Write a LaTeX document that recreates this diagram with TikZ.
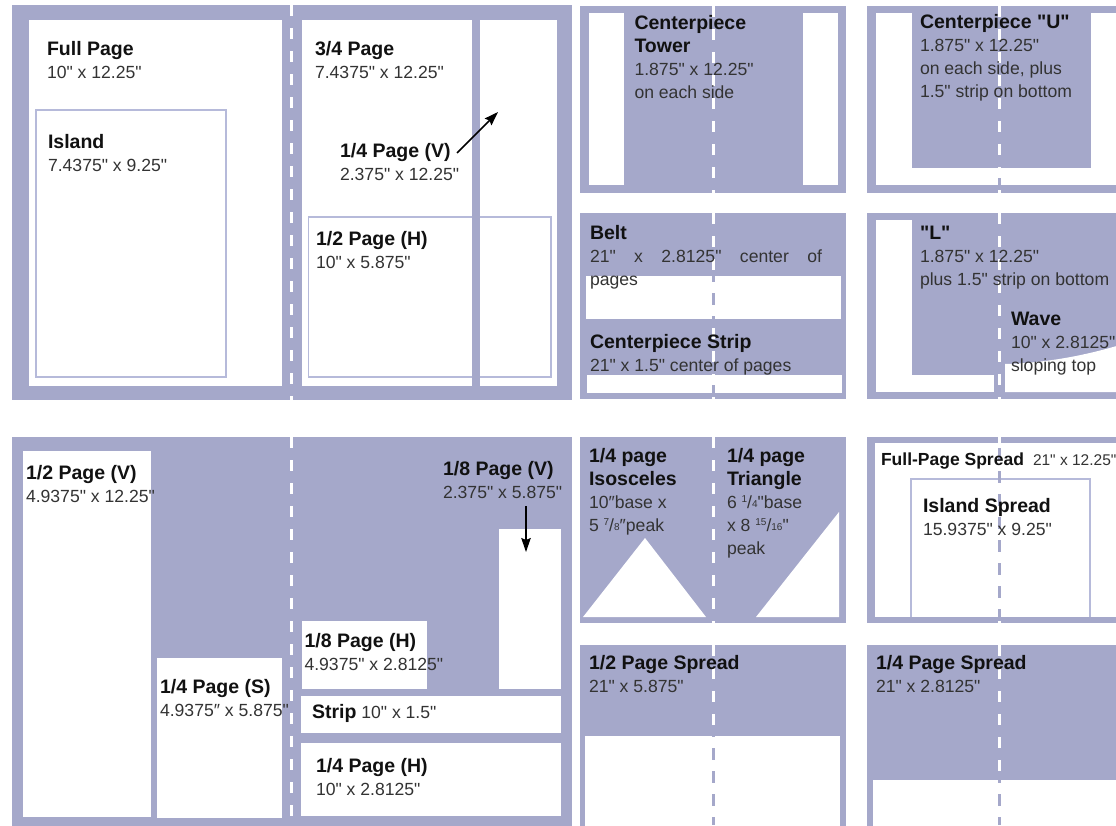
\documentclass[tikz,border=0pt]{standalone}
\usepackage{fontspec}
\setmainfont{Liberation Sans}
\usetikzlibrary{arrows.meta}
\definecolor{pp}{HTML}{A5A8CA}
\definecolor{ol}{HTML}{B6BADA}
\definecolor{tx}{HTML}{333333}
\definecolor{tb}{HTML}{111111}
\newcommand\regf{\fontsize{17.6}{23}\selectfont}
\newcommand\boldf{\fontsize{19.5}{23}\selectfont\bfseries\color{tb}}
\newcommand\fsr{\rule{0pt}{17pt}}
\newcommand\dq{\XeTeXglyph\XeTeXcharglyph"22\relax}
\newcommand\frc[2]{\raisebox{5.5pt}{\fontsize{10}{10}\selectfont #1}/\raisebox{0.5pt}{\fontsize{10}{10}\selectfont #2}}
\newcommand\gutterline[3]{%
  \draw[pp, line width=3pt] (#1,#2) -- (#1,#3);
  \draw[white, line width=3pt, dash pattern=on 11pt off 12pt] (#1,#2) -- (#1,#3);}
\tikzset{
  panel/.style={fill=pp, draw=none},
  pagebox/.style={fill=white, draw=none},
  outl/.style={draw=ol, line width=1.6pt},
  lbl/.style={anchor=north west, inner sep=0pt, outer sep=0pt, align=left, font=\regf, text=tx},
  pointer/.style={-{Stealth[length=14pt,width=9.5pt,inset=2pt]}, line width=1.5pt, draw=black},
}
\begin{document}
\begin{tikzpicture}[x=1pt,y=-1pt]
\useasboundingbox (0,0) rectangle (1116,825);
\fill[white] (0,0) rectangle (1116,825);
\clip (0,0) rectangle (1116,825);

% ---------- Panel A : Full page / 3/4 page ----------
\fill[panel] (12,5) rectangle (572,400);
\fill[pagebox] (29,20) rectangle (282,386);
\fill[pagebox] (302,20) rectangle (557,386);
\draw[outl] (36,110) rectangle (226,377);
\draw[outl] (308.5,217) rectangle (551,377);
\fill[panel] (472,20) rectangle (480,386);
\gutterline{291}{5}{400}

\node[lbl] (fullp) at (47,38) {\fsr{\boldf Full Page}\\10\dq{} x 12.25\dq};
\node[lbl] (island) at (48,131) {\fsr{\boldf Island}\\7.4375\dq{} x 9.25\dq};
\node[lbl] (tqpage) at (315,38) {\fsr{\boldf 3/4 Page}\\7.4375\dq{} x 12.25\dq};
\node[lbl] (qvpage) at (340,140) {\fsr{\boldf 1/4 Page (V)}\\2.375\dq{} x 12.25\dq};
\node[lbl] (hhpage) at (316,228) {\fsr{\boldf 1/2 Page (H)}\\10\dq{} x 5.875\dq};
\coordinate (qvTail) at (457,153);
\coordinate (qvTip) at (498,112);
\draw[pointer] (qvTail) -- (qvTip);

% ---------- Panel B : Centerpiece Tower ----------
\fill[panel] (580,6) rectangle (846,193);
\fill[pagebox] (589,13) rectangle (624,185);
\fill[pagebox] (803,13) rectangle (838,185);
\gutterline{713}{6}{193}
\node[lbl] (tower) at (634.5,12) {\fsr{\boldf Centerpiece}\\{\boldf Tower}\\1.875\dq{} x 12.25\dq\\on each side};

% ---------- Belt / Centerpiece Strip ----------
\fill[panel] (580,213) rectangle (846,399);
\fill[pagebox] (586,276) rectangle (841,319);
\fill[pagebox] (587,375) rectangle (842,393);
\gutterline{713}{213}{399}
\node[lbl] (belt) at (590,222) {\fsr{\boldf Belt}\\\makebox[232pt][s]{21\dq{} x 2.8125\dq{} center of}\\pages};
\node[lbl] (cstrip) at (590,331) {\fsr{\boldf Centerpiece Strip}\\21\dq{} x 1.5\dq{} center of pages};

% ---------- Centerpiece U ----------
\fill[panel] (867,6) rectangle (1120,193);
\fill[pagebox] (876,13) rectangle (1120,185);
\fill[panel] (912,13) rectangle (1091,168);
\gutterline{999}{6}{193}
\node[lbl] (cpu) at (920,11) {\fsr{\boldf Centerpiece \dq U\dq}\\1.875\dq{} x 12.25\dq\\on each side, plus\\1.5\dq{} strip on bottom};

% ---------- L / Wave ----------
\fill[panel] (867,213) rectangle (1120,399);
\fill[pagebox] (876,220) rectangle (912,392);
\fill[pagebox] (876,375) rectangle (994,392);
\fill[pagebox] (1005,392) -- (1005,364) .. controls (1045,363) and (1083,356) .. (1120,345) -- (1120,392) -- cycle;
\gutterline{999}{213}{399}
\node[lbl] (ell) at (920,222) {\fsr{\boldf \dq L\dq}\\1.875\dq{} x 12.25\dq\\plus 1.5\dq{} strip on bottom};
\node[lbl] (wave) at (1011,308) {\fsr{\boldf Wave}\\10\dq{} x 2.8125\dq\\sloping top};

% ---------- Panel D : fractional pages ----------
\fill[panel] (12,437) rectangle (572,830);
\fill[pagebox] (23,451) rectangle (151,817);
\fill[pagebox] (157,658) rectangle (282,818);
\fill[pagebox] (301.5,621) rectangle (426.5,689);
\fill[pagebox] (498.5,529) rectangle (560.5,689);
\fill[pagebox] (300.5,696) rectangle (560.5,733);
\fill[pagebox] (300.5,743) rectangle (560.5,816);
\gutterline{291}{437}{825}
\node[lbl] (hvpage) at (26,462) {\fsr{\boldf 1/2 Page (V)}\\4.9375\dq{} x 12.25\dq};
\node[lbl] (qspage) at (160,676) {\fsr{\boldf 1/4 Page (S)}\\4.9375″ x 5.875\dq};
\node[lbl] (evpage) at (443,458) {\fsr{\boldf 1/8 Page (V)}\\2.375\dq{} x 5.875\dq};
\node[lbl] (ehpage) at (304.5,630) {\fsr{\boldf 1/8 Page (H)}\\4.9375\dq{} x 2.8125\dq};
\node[lbl] (strip) at (312,701) {\fsr{\boldf Strip} 10\dq{} x 1.5\dq};
\node[lbl] (qhpage) at (316,755) {\fsr{\boldf 1/4 Page (H)}\\10\dq{} x 2.8125\dq};
\coordinate (evTail) at (526,506);
\coordinate (evTip) at (526,552);
\draw[pointer] (evTail) -- (evTip);

% ---------- Panel E : triangles ----------
\fill[panel] (580,437) rectangle (846,623);
\fill[pagebox] (583,617) -- (645,538) -- (706,617) -- cycle;
\fill[pagebox] (756,617) -- (839,512) -- (839,617) -- cycle;
\gutterline{713}{437}{623}
\node[lbl] (iso) at (589,445) {\fsr{\boldf 1/4 page}\\{\boldf Isosceles}\\10″base x\\5 \frc{7}{8}″peak};
\node[lbl] (tri) at (727,445) {\fsr{\boldf 1/4 page}\\{\boldf Triangle}\\6 \frc{1}{4}\dq base\\x 8 \frc{15}{16}\dq\\peak};

% ---------- Panel F : 1/2 page spread ----------
\fill[panel] (580,645) rectangle (846,830);
\fill[pagebox] (585,736) rectangle (840,830);
\gutterline{713}{645}{825}
\node[lbl] (hspread) at (589,652) {\fsr{\boldf 1/2 Page Spread}\\21\dq{} x 5.875\dq};

% ---------- Panel G : full page spread ----------
\fill[panel] (867,437) rectangle (1120,623);
\fill[pagebox] (875,443) rectangle (1120,617);
\draw[outl] (911,617) -- (911,479) -- (1090,479) -- (1090,617);
\gutterline{999}{437}{623}
\node[lbl] (fspread) at (881,448) {\fsr{\fontsize{17.5}{23}\selectfont\bfseries\color{tb}Full-Page Spread}};
\node[lbl] (fspreaddim) at (1033,448) {\fsr{\fontsize{15.5}{23}\selectfont 21\dq{} x 12.25\dq}};
\node[lbl] (ispread) at (923,495) {\fsr{\boldf Island Spread}\\15.9375\dq{} x 9.25\dq};

% ---------- Panel H : 1/4 page spread ----------
\fill[panel] (867,645) rectangle (1120,830);
\fill[pagebox] (873,780) rectangle (1120,830);
\gutterline{999}{645}{825}
\node[lbl] (qspread) at (876,652) {\fsr{\boldf 1/4 Page Spread}\\21\dq{} x 2.8125\dq};
\end{tikzpicture}
\end{document}
